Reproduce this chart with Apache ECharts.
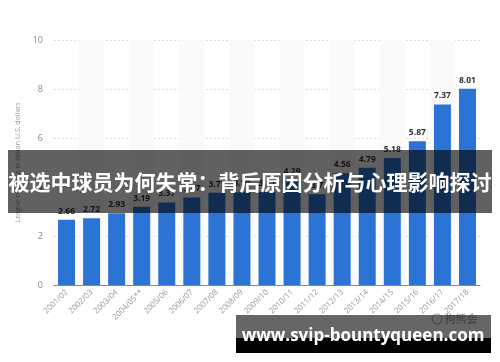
<!DOCTYPE html>
<html>
<head>
<meta charset="utf-8">
<script src="https://cdn.jsdelivr.net/npm/echarts@6/dist/echarts.min.js"></script>
<style>html,body{margin:0;padding:0;background:#fff;}#c{width:500px;height:362px;}</style>
</head>
<body>
<div id="c"></div>
<script>
var categories = ['2001/02','2002/03','2003/04','2004/05**','2005/06','2006/07','2007/08','2008/09','2009/10','2010/11','2011/12','2012/13','2013/14','2014/15','2015/16','2016/17','2017/18'];
var revenue = [2.66, 2.72, 2.93, 3.19, 3.37, 3.57, 3.77, 3.79, 3.81, 4.29, 3.7, 4.56, 4.79, 5.18, 5.87, 7.37, 8.01];
var yTicks = [0, 2, 4, 6, 8, 10];
var yName = 'League revenue in billion U.S. dollars';
var headline = '被选中球员为何失常：背后原因分析与心理影响探讨';
var siteUrl = 'www.svip-bountyqueen.com';
var watermark = '狗熊会';

var chart = echarts.init(document.getElementById('c'), null, {renderer: 'canvas'});
chart.setOption({
  animation: false,
  backgroundColor: '#ffffff',
  grid: {left: 54, right: 20, top: 40, bottom: 77},
  xAxis: {
    type: 'category',
    data: categories,
    axisLine: {lineStyle: {color: '#888', width: 1}},
    axisTick: {show: false},
    axisLabel: {rotate: 45, fontSize: 8, color: '#999', margin: 6, fontFamily: 'Open Sans', interval: 0},
    splitArea: {show: true, areaStyle: {color: ['rgba(255,255,255,0)', '#fafafa']}}
  },
  yAxis: {
    type: 'value',
    min: yTicks[0],
    max: yTicks[yTicks.length - 1],
    interval: 2,
    name: yName,
    nameLocation: 'middle',
    nameGap: 31,
    nameTextStyle: {fontSize: 7, color: '#999', fontFamily: 'Open Sans'},
    axisLine: {show: false},
    axisTick: {show: false},
    axisLabel: {fontSize: 9, color: '#888', margin: 11, fontFamily: 'Open Sans'},
    splitLine: {lineStyle: {color: '#dcdcdc', type: [2, 2]}}
  },
  series: [{
    type: 'bar',
    data: revenue,
    barWidth: 17,
    itemStyle: {color: '#2c73d6'},
    label: {show: true, position: 'top', distance: 4, fontSize: 8.5, color: '#333', fontFamily: 'Open Sans', fontWeight: 'bold'}
  }],
  graphic: [
    {type: 'rect', z: 100, shape: {x: 8, y: 150, width: 484, height: 63}, style: {fill: 'rgba(0,0,0,0.62)'}},
    {type: 'text', z: 101, x: 250, y: 182, style: {text: headline, fill: '#fff', font: 'bold 21px "Noto Sans CJK SC"', align: 'center', verticalAlign: 'middle'}},
    {type: 'circle', z: 99, shape: {cx: 437, cy: 319, r: 5}, style: {fill: 'none', stroke: 'rgba(130,130,130,0.8)', lineWidth: 1}},
    {type: 'text', z: 99, x: 461, y: 319, style: {text: watermark, fill: 'rgba(120,120,120,0.8)', font: '11px "Noto Sans CJK SC"', align: 'center', verticalAlign: 'middle'}},
    {type: 'rect', z: 100, shape: {x: 236, y: 315, width: 255, height: 23}, style: {fill: 'rgba(0,0,0,0.6)'}},
    {type: 'rect', z: 100, shape: {x: 236, y: 338, width: 255, height: 15}, style: {fill: '#000'}},
    {type: 'text', z: 101, x: 363, y: 336, style: {text: siteUrl, fill: '#fff', font: 'bold 17px "Open Sans"', align: 'center', verticalAlign: 'middle'}}
  ]
});
</script>
</body>
</html>
